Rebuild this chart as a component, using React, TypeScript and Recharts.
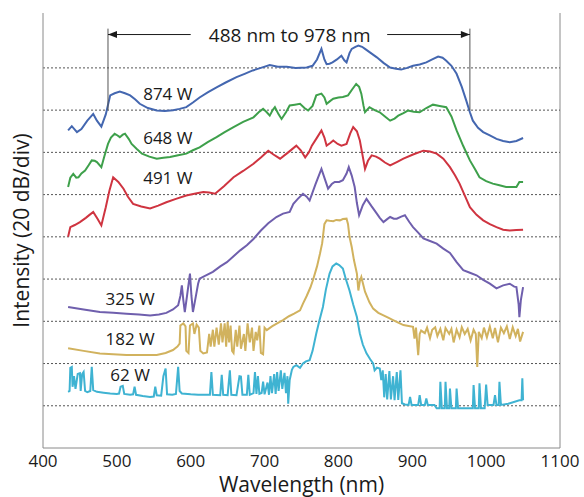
import React from 'react';
import {
  LineChart,
  Line,
  XAxis,
  YAxis,
  ReferenceLine,
  ReferenceDot,
} from 'recharts';

// wavelength (nm), intensity in divisions (20 dB/div)
const blue874: [number, number][] = [
  [434, 7.52], [439, 7.62], [446, 7.48], [452, 7.55], [460, 7.75], [468, 7.91], [473, 7.75], [479, 7.61],
  [485, 7.9], [491, 8.35], [497, 8.4], [504, 8.44], [511, 8.4], [518, 8.35], [525, 8.25], [531, 8.15],
  [542, 8.05], [554, 7.99], [565, 7.98], [576, 8.0], [585, 8.03], [594, 8.07], [603, 8.18], [612, 8.3],
  [623, 8.42], [635, 8.54], [648, 8.66], [662, 8.78], [673, 8.86], [684, 8.94], [695, 9.0], [707, 9.07],
  [718, 9.03], [730, 9.03], [742, 9.0], [757, 9.01], [765, 9.05], [771, 9.2], [777, 9.45], [781, 9.2],
  [784, 9.09], [788, 9.1], [792, 9.13], [798, 9.2], [804, 9.29], [808, 9.18], [811, 9.13], [815, 9.35],
  [818, 9.45], [823, 9.5], [827, 9.53], [832, 9.5], [836, 9.45], [844, 9.35], [852, 9.25], [861, 9.12],
  [870, 9.01], [878, 8.98], [885, 8.96], [893, 9.0], [901, 9.05], [910, 9.08], [919, 9.13], [927, 9.2],
  [935, 9.27], [941, 9.24], [946, 9.17], [953, 9.05], [960, 8.86], [967, 8.55], [973, 8.23], [978, 7.95],
  [982, 7.75], [989, 7.58], [996, 7.48], [1005, 7.4], [1014, 7.32], [1023, 7.27], [1032, 7.24], [1041, 7.27],
  [1050, 7.34],
];

const green648: [number, number][] = [
  [434, 6.18], [437, 6.4], [441, 6.49], [445, 6.4], [448, 6.41], [452, 6.5], [457, 6.57], [462, 6.7],
  [466, 6.81], [470, 6.8], [473, 6.77], [479, 6.65], [483, 6.9], [488, 7.2], [492, 7.35], [497, 7.44],
  [501, 7.4], [504, 7.36], [508, 7.42], [511, 7.44], [516, 7.32], [520, 7.2], [527, 7.08], [534, 6.97],
  [544, 6.9], [554, 6.85], [563, 6.87], [572, 6.89], [583, 6.93], [594, 6.97], [603, 7.05], [612, 7.12],
  [623, 7.24], [635, 7.36], [646, 7.48], [658, 7.6], [671, 7.72], [685, 7.83], [692, 7.95], [698, 8.03],
  [703, 7.95], [707, 7.87], [711, 8.0], [714, 8.07], [719, 7.9], [723, 7.79], [729, 7.95], [734, 8.11],
  [741, 8.13], [748, 8.15], [754, 8.05], [759, 7.99], [765, 8.1], [770, 8.35], [777, 8.39], [781, 8.3],
  [784, 8.15], [789, 8.22], [793, 8.27], [800, 8.3], [806, 8.31], [813, 8.35], [819, 8.5], [824, 8.62],
  [828, 8.55], [831, 8.39], [834, 8.1], [836, 7.95], [842, 8.07], [849, 8.0], [856, 7.95], [863, 7.85],
  [870, 7.75], [876, 7.8], [881, 7.87], [888, 7.93], [894, 7.99], [902, 7.96], [910, 7.95], [919, 8.05],
  [928, 8.13], [937, 8.1], [946, 8.07], [953, 7.85], [960, 7.52], [969, 7.15], [978, 6.81], [985, 6.6],
  [991, 6.41], [1000, 6.32], [1009, 6.26], [1018, 6.22], [1027, 6.18], [1036, 6.18], [1041, 6.18],
  [1045, 6.3], [1050, 6.3],
];

const red491: [number, number][] = [
  [434, 5.0], [437, 5.23], [443, 5.28], [450, 5.35], [458, 5.45], [463, 5.52], [468, 5.59], [474, 5.42],
  [479, 5.27], [485, 5.7], [490, 6.1], [495, 6.41], [502, 6.3], [509, 6.14], [515, 5.95], [522, 5.78],
  [533, 5.72], [545, 5.67], [556, 5.74], [567, 5.82], [580, 5.9], [594, 5.98], [605, 6.02], [617, 6.06],
  [625, 6.05], [633, 6.02], [645, 6.2], [658, 6.41], [671, 6.56], [685, 6.73], [695, 6.88], [705, 7.04],
  [712, 6.95], [721, 6.85], [732, 7.0], [743, 7.16], [749, 7.05], [755, 6.88], [760, 7.0], [764, 7.16],
  [771, 7.35], [777, 7.52], [781, 7.35], [784, 7.16], [789, 7.22], [793, 7.28], [799, 7.2], [804, 7.16],
  [811, 7.2], [816, 7.45], [820, 7.6], [825, 7.5], [829, 7.28], [833, 6.9], [836, 6.61], [840, 6.8],
  [845, 6.93], [851, 6.9], [856, 6.85], [863, 6.76], [870, 6.69], [879, 6.77], [888, 6.85], [901, 6.95],
  [915, 7.04], [924, 7.02], [933, 6.97], [942, 6.85], [951, 6.65], [958, 6.45], [964, 6.26], [971, 5.98],
  [978, 5.7], [987, 5.52], [996, 5.39], [1005, 5.3], [1014, 5.23], [1023, 5.17], [1032, 5.15], [1041, 5.16],
  [1050, 5.17],
];

const purple325: [number, number][] = [
  [434, 3.34], [455, 3.28], [477, 3.22], [495, 3.2], [513, 3.18], [530, 3.16], [545, 3.14], [557, 3.16],
  [567, 3.2], [576, 3.28], [583, 3.38], [586, 3.6], [588, 3.85], [590, 3.5], [592, 3.22], [595, 3.6],
  [599, 4.13], [601, 3.6], [603, 3.22], [606, 3.5], [610, 3.89], [612, 4.01], [620, 4.08], [630, 4.17],
  [640, 4.3], [649, 4.4], [658, 4.54], [667, 4.68], [676, 4.8], [685, 4.95], [695, 5.15], [705, 5.32],
  [716, 5.47], [725, 5.55], [734, 5.59], [739, 5.78], [745, 5.9], [752, 6.02], [757, 5.95], [761, 5.86],
  [769, 6.25], [777, 6.61], [782, 6.35], [786, 6.14], [791, 6.25], [795, 6.3], [801, 6.3], [806, 6.34],
  [811, 6.5], [814, 6.65], [818, 6.45], [822, 6.18], [825, 5.8], [828, 5.51], [833, 5.75], [838, 5.9],
  [845, 5.72], [852, 5.55], [856, 5.45], [861, 5.35], [866, 5.42], [870, 5.47], [875, 5.43], [879, 5.43],
  [885, 5.48], [890, 5.51], [896, 5.35], [901, 5.23], [908, 5.1], [915, 4.96], [924, 4.9], [933, 4.84],
  [942, 4.72], [951, 4.62], [960, 4.4], [969, 4.21], [978, 4.15], [987, 4.09], [996, 3.98], [1005, 3.89],
  [1014, 3.78], [1023, 3.85], [1032, 3.89], [1038, 3.82], [1041, 3.81], [1044, 3.4], [1045, 3.1],
  [1047, 3.5], [1050, 3.81],
];

const gold182: [number, number][] = [
  [434, 2.36], [455, 2.3], [477, 2.24], [495, 2.22], [513, 2.2], [535, 2.2], [554, 2.2], [566, 2.25],
  [576, 2.32], [582, 2.4], [585, 2.47], [586, 2.9], [590, 2.95], [593, 2.88], [594, 2.3], [597, 2.25],
  [599, 2.9], [603, 2.95], [605, 2.7], [608, 2.92], [611, 2.85], [613, 2.3], [617, 2.24], [622, 2.26],
  [625, 2.7], [627, 2.4], [630, 2.8], [632, 2.4], [635, 2.85], [638, 2.45], [641, 2.95], [643, 2.5],
  [646, 2.95], [648, 2.4], [650, 2.99], [652, 2.5], [654, 2.9], [656, 2.3], [658, 2.25], [661, 2.8],
  [663, 2.4], [666, 2.9], [668, 2.35], [672, 2.7], [674, 2.3], [677, 2.95], [680, 2.5], [683, 2.85],
  [685, 2.3], [688, 2.75], [690, 2.55], [693, 2.9], [695, 2.25], [698, 2.22], [700, 2.85], [703, 2.79],
  [710, 2.88], [717, 2.95], [725, 3.03], [733, 3.12], [740, 3.18], [748, 3.26], [752, 3.42], [757, 3.6],
  [762, 3.8], [766, 4.0], [771, 4.3], [775, 4.6], [778, 4.85], [781, 5.3], [784, 5.39], [788, 5.38],
  [793, 5.37], [797, 5.4], [802, 5.39], [806, 5.42], [811, 5.43], [813, 5.3], [815, 5.0], [818, 4.76],
  [821, 4.45], [825, 4.13], [827, 3.73], [829, 3.95], [831, 4.05], [836, 3.7], [842, 3.45], [847, 3.3],
  [854, 3.2], [861, 3.14], [868, 3.08], [874, 3.03], [881, 2.97], [888, 2.91], [895, 2.89], [901, 2.87],
  [903, 2.59], [905, 2.85], [908, 2.2], [910, 2.7], [912, 2.78], [917, 2.72], [920, 2.85], [924, 2.6],
  [927, 2.8], [931, 2.86], [934, 2.65], [938, 2.82], [942, 2.55], [945, 2.84], [950, 2.7], [953, 2.82],
  [956, 2.5], [960, 2.8], [964, 2.62], [967, 2.86], [971, 2.7], [975, 2.82], [979, 2.55], [983, 2.8],
  [986, 2.7], [988, 1.92], [990, 2.75], [994, 2.6], [997, 2.85], [1001, 2.62], [1005, 2.88], [1009, 2.6],
  [1012, 2.84], [1016, 2.5], [1020, 2.85], [1024, 2.72], [1028, 2.88], [1032, 2.58], [1036, 2.86],
  [1040, 2.65], [1043, 2.82], [1046, 2.52], [1050, 2.75],
];

const cyan62: [number, number][] = [
  [434, 1.33], [436, 1.35], [437, 1.9], [439, 1.92], [440, 1.45], [442, 1.7], [444, 1.4], [447, 1.75],
  [450, 1.77], [451, 1.35], [453, 1.75], [455, 1.8], [457, 1.35], [460, 1.32], [464, 1.35], [466, 1.92],
  [468, 1.37], [473, 1.33], [482, 1.31], [491, 1.29], [500, 1.28], [503, 1.29], [505, 1.45], [508, 1.47],
  [510, 1.28], [518, 1.26], [522, 1.27], [524, 1.45], [526, 1.26], [535, 1.23], [545, 1.21], [550, 1.22],
  [552, 1.45], [554, 1.25], [560, 1.24], [563, 1.7], [566, 1.88], [568, 1.27], [575, 1.26], [580, 1.28],
  [583, 1.92], [585, 1.35], [588, 1.29], [600, 1.27], [610, 1.26], [626, 1.26], [628, 1.8], [630, 1.26],
  [640, 1.25], [642, 1.73], [644, 1.26], [650, 1.25], [653, 1.84], [655, 1.26], [662, 1.25], [666, 1.7],
  [668, 1.69], [670, 1.26], [676, 1.26], [678, 1.73], [680, 1.26], [685, 1.3], [687, 1.8], [689, 1.28],
  [691, 1.7], [693, 1.28], [696, 1.3], [698, 1.57], [700, 1.27], [704, 1.55], [706, 1.26], [708, 1.7],
  [710, 1.3], [713, 1.75], [715, 1.28], [717, 1.8], [719, 1.35], [722, 1.84], [724, 1.4], [727, 1.78],
  [729, 1.3], [731, 1.7], [732, 1.05], [734, 1.61], [737, 1.85], [739, 1.92], [743, 1.96], [748, 1.9],
  [752, 2.0], [756, 2.05], [761, 2.08], [765, 2.3], [770, 2.71], [774, 3.0], [779, 3.34], [783, 3.75],
  [788, 4.13], [792, 4.3], [797, 4.37], [801, 4.33], [806, 4.25], [810, 4.0], [815, 3.73], [820, 3.4],
  [825, 3.1], [829, 2.71], [833, 2.45], [838, 2.24], [843, 2.1], [847, 2.0], [849, 1.84], [852, 1.9],
  [856, 1.88], [858, 1.61], [860, 1.84], [862, 1.2], [864, 1.75], [866, 1.15], [869, 1.82], [871, 1.15],
  [874, 1.7], [876, 1.13], [879, 1.8], [881, 1.14], [884, 1.84], [886, 1.06], [890, 1.03], [895, 1.02],
  [897, 1.21], [899, 1.02], [908, 1.02], [910, 1.25], [912, 1.02], [917, 1.02], [919, 1.17], [921, 1.02],
  [930, 1.02], [933, 0.94], [937, 0.94], [938, 1.57], [940, 0.94], [944, 0.94], [945, 1.57], [947, 0.94],
  [950, 0.94], [951, 1.41], [953, 0.94], [959, 0.94], [960, 1.41], [962, 0.94], [982, 0.94], [983, 1.49],
  [985, 0.94], [990, 0.94], [991, 1.53], [993, 0.94], [998, 0.94], [1000, 1.5], [1002, 1.02], [1010, 1.02],
  [1012, 1.25], [1014, 1.02], [1017, 1.02], [1018, 1.57], [1020, 1.02], [1030, 1.05], [1045, 1.13],
  [1048, 1.13], [1049, 1.65], [1050, 1.13],
];

const xTicks = [400, 500, 600, 700, 800, 900, 1000, 1100];
const gridLevels = [1, 2, 3, 4, 5, 6, 7, 8, 9];
const bandEdges = [488, 978];
const bandText = '488 nm to 978 nm';

const series = [
  { name: '874 W', data: blue874, color: '#4467b0', at: [569, 8.39] },
  { name: '648 W', data: green648, color: '#3ea04b', at: [569, 7.35] },
  { name: '491 W', data: red491, color: '#cf3440', at: [569, 6.41] },
  { name: '325 W', data: purple325, color: '#6f5fad', at: [518, 3.55] },
  { name: '182 W', data: gold182, color: '#d1b25e', at: [518, 2.6] },
  { name: '62 W', data: cyan62, color: '#3fb3d2', at: [518, 1.73] },
];

const FONT = '"Open Sans", "Noto Sans", sans-serif';
const AXIS = '#8a8a8a';

const toPoints = (d: [number, number][]) => d.map(([x, y]) => ({ x, y }));

const textShape = (text: string, size: number) => (props: any) => (
  <text
    x={props.cx}
    y={props.cy}
    textAnchor="middle"
    dominantBaseline="central"
    fontSize={size}
    fontFamily={FONT}
    fill="#1a1a1a"
  >
    {text}
  </text>
);

const arrowHead = (dir: number) => (props: any) => (
  <polygon
    points={`${props.cx},${props.cy} ${props.cx - dir * 9},${props.cy - 3.5} ${props.cx - dir * 9},${props.cy + 3.5}`}
    fill="#1a1a1a"
  />
);

export default function App() {
  const arrowY = 9.79;
  return (
    <div style={{ position: 'absolute', left: 0, top: 0, width: 584, height: 497, background: '#fff' }}>
      <LineChart width={584} height={497} margin={{ top: 13, right: 24, bottom: 0, left: 0 }}>
        <XAxis
          type="number"
          dataKey="x"
          domain={[400, 1100]}
          ticks={xTicks}
          allowDataOverflow
          height={49}
          stroke={AXIS}
          tickLine={false}
          tickSize={4}
          tickMargin={3}
          tick={{ fontSize: 17, fontFamily: FONT, fill: '#1a1a1a' }}
          label={{
            value: 'Wavelength (nm)',
            position: 'insideBottom',
            offset: 5,
            fontSize: 21,
            fontFamily: FONT,
            fill: '#1a1a1a',
          }}
        />
        <XAxis
          xAxisId="top"
          orientation="top"
          type="number"
          domain={[400, 1100]}
          ticks={xTicks}
          height={0}
          stroke={AXIS}
          mirror
          tickSize={4}
          tick={() => <g />}
        />
        <YAxis
          type="number"
          domain={[0, 10.3]}
          ticks={gridLevels}
          width={43}
          stroke={AXIS}
          tickSize={3}
          tick={false}
          label={{
            value: 'Intensity (20 dB/div)',
            angle: -90,
            position: 'center',
            fontSize: 21,
            fontFamily: FONT,
            fill: '#1a1a1a',
          }}
        />
        <ReferenceLine x={1100} stroke={AXIS} />
        {gridLevels.map(g => (
          <ReferenceLine key={g} y={g} stroke="#555" strokeDasharray="2 2" />
        ))}
        {series.map(s => (
          <Line
            key={s.name}
            data={toPoints(s.data)}
            dataKey="y"
            type="linear"
            stroke={s.color}
            strokeWidth={2}
            dot={false}
            isAnimationActive={false}
          />
        ))}
        {bandEdges.map(e => (
          <ReferenceLine
            key={`edge-${e}`}
            segment={[{ x: e, y: 9.93 }, { x: e, y: 8.0 }]}
            stroke="#555"
            strokeWidth={1}
          />
        ))}
        <ReferenceLine segment={[{ x: bandEdges[0], y: arrowY }, { x: 600, y: arrowY }]} stroke="#1a1a1a" />
        <ReferenceLine segment={[{ x: 866, y: arrowY }, { x: bandEdges[1], y: arrowY }]} stroke="#1a1a1a" />
        <ReferenceDot x={bandEdges[0]} y={arrowY} r={0} shape={arrowHead(-1)} />
        <ReferenceDot x={bandEdges[1]} y={arrowY} r={0} shape={arrowHead(1)} />
        <ReferenceDot x={734} y={arrowY} r={0} shape={textShape(bandText, 19)} />
        {series.map(s => (
          <ReferenceDot key={`lbl-${s.name}`} x={s.at[0]} y={s.at[1]} r={0} shape={textShape(s.name, 17)} />
        ))}
      </LineChart>
    </div>
  );
}
